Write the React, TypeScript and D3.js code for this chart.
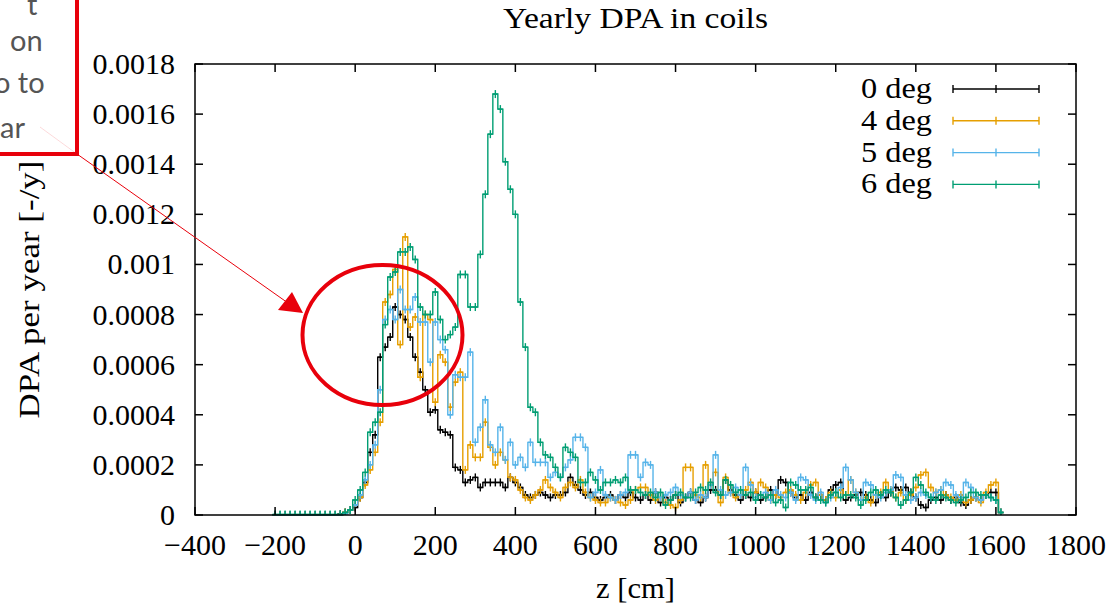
import React from "react";
import * as d3 from "d3";

// Histogram binning (cm)
const BIN_START = -200;
const BIN_WIDTH = 12.5;

// Values in units of 1e-5 DPA per year
const deg0 = [
  0,0,0,0,0,0,0,0,0,0,
  0,0,0,0.3,1,2,3,7,13,25,
  32,63,67,71,83,80,78,71,63,57,
  50,41,42,34,33,32,19,18,13,14,
  15,11,13,13,13,13,11,15,13,11,
  8,7,8,9,8,7,8,8,9,15,
  12,10,8,9,7,6,7,8,6,8,
  7,9,7,6,8,6,9,5,7,6,
  8,5,7,9,6,5,7,10,10,8,
  14,10,8,6,8,7,9,6,7,10,
  8,14,13,9,7,8,6,9,7,8,
  6,10,12,13,6,7,8,9,8,6,
  5,8,7,9,11,10,11,9,7,4,
  3,6,7,6,8,6,7,5,4,6,
  7,6,8,9,9,1,
];
const deg4 = [
  0,0,0,0,0,0,0,0,0,0,
  0,0,0,0,1,2,4,7,12,18,
  25,37,85,88,98,68,111,75,79,55,
  80,78,45,64,61,43,53,57,18,28,
  23,23,37,27,20,25,22,15,14,10,
  7,6,8,10,14,11,9,7,11,13,
  11,14,9,7,6,5,5,7,6,5,
  4,6,10,11,11,8,6,7,5,4,
  3,6,19,19,8,7,20,12,17,5,
  15,9,7,8,10,13,9,13,11,6,
  8,7,9,10,8,6,9,12,13,8,
  6,9,7,10,8,14,9,6,7,5,
  8,9,13,10,7,9,6,8,11,16,
  17,11,9,10,8,7,6,8,5,6,
  7,5,9,12,13,1,
];
const deg5 = [
  0,0,0,0,0,0,0,0,0,0,
  0,0,0,0,0.5,2,4,8,14,20,
  28,50,78,82,78,90,82,82,87,77,
  77,61,77,70,66,40,56,55,55,65,
  29,35,46,28,25,35,22,29,20,23,
  19,29,21,21,21,15,17,15,19,22,
  31,31,27,7,9,18,8,7,6,8,
  9,24,24,15,21,20,9,7,8,9,
  11,8,7,9,6,8,7,12,24,10,
  8,9,11,8,19,12,7,8,9,6,
  10,8,7,9,6,15,14,8,6,9,
  5,7,9,11,19,14,9,6,13,12,
  8,7,9,10,16,15,8,6,7,9,
  8,7,9,10,13,12,8,7,13,11,
  7,6,8,7,6,1,
];
const deg6 = [
  0.2,0.2,0.2,0.2,0.2,0.2,0.2,0.2,0.2,0.2,
  0.2,0.2,0.2,0.2,1,2,6,10,17,33,
  37,41,76,95,97,105,105,107,102,83,
  80,80,89,78,70,72,75,96,96,83,
  83,104,128,152,168,162,141,130,120,85,
  67,43,41,29,24,23,19,15,27,25,
  23,13,13,17,14,10,13,13,14,13,
  15,10,10,9,8,9,7,9,4,6,
  8,9,7,7,9,11,10,13,9,8,
  14,12,9,10,8,9,6,8,7,8,
  5,6,3,13,12,10,10,11,7,6,
  5,8,9,7,8,8,7,4,6,9,
  10,8,10,9,7,4,6,9,15,12,
  9,7,6,8,7,6,5,6,7,9,
  9,8,8,7,6,1,
];

const seriesNames = ["0 deg", "4 deg", "5 deg", "6 deg"];
const seriesValues = [deg0, deg4, deg5, deg6];
const seriesColors = ["#000000", "#E69F00", "#56B4E9", "#009E73"];

const xTicks = [-400, -200, 0, 200, 400, 600, 800, 1000, 1200, 1400, 1600, 1800];
const yTicks = [0, 0.0002, 0.0004, 0.0006, 0.0008, 0.001, 0.0012, 0.0014, 0.0016, 0.0018];
const yTickLabels = ["0", "0.0002", "0.0004", "0.0006", "0.0008", "0.001", "0.0012", "0.0014", "0.0016", "0.0018"];

const W = 1111, H = 611;
const L = 195, R = 1076, T = 64, B = 515;
const FONT = "'Liberation Serif', 'Times New Roman', serif";
const FS = 30;

export default function App() {
  const x = d3.scaleLinear().domain([-400, 1800]).range([L, R]);
  const y = d3.scaleLinear().domain([0, 0.0018]).range([B, T]);

  const fmtX = (v: number) => (v < 0 ? "\u2212" + Math.abs(v) : String(v));

  const paths = seriesValues.map((vals) => {
    const pts: [number, number][] = [];
    vals.forEach((v, i) => {
      const c = BIN_START + BIN_WIDTH * i;
      const val = v * 1e-5;
      pts.push([x(c - BIN_WIDTH / 2), y(val)]);
      pts.push([x(c + BIN_WIDTH / 2), y(val)]);
    });
    return d3.line()(pts) as string;
  });

  return (
    <svg width={W} height={H} style={{ position: "absolute", left: 0, top: 0, background: "#fff" }}
      fontFamily={FONT}>
      <rect x={0} y={0} width={W} height={H} fill="#fff" />
      {/* title */}
      <text x={(L + R) / 2} y={28} textAnchor="middle" fontSize={FS} textLength={265} lengthAdjust="spacingAndGlyphs">Yearly DPA in coils</text>

      {/* series */}
      {seriesValues.map((vals, si) => (
        <g key={si} stroke={seriesColors[si]} strokeWidth={1.4} fill="none">
          <path d={paths[si]} />
          {vals.map((v, i) => {
            const cx = x(BIN_START + BIN_WIDTH * i);
            const cy = y(v * 1e-5);
            return (
              <g key={i}>
                <line x1={cx} x2={cx} y1={cy - 4} y2={Math.min(cy + 4, B)} />
                <line x1={cx - 2.5} x2={cx + 2.5} y1={cy} y2={cy} />
              </g>
            );
          })}
        </g>
      ))}

      {/* frame */}
      <rect x={L} y={T} width={R - L} height={B - T} fill="none" stroke="#000" strokeWidth={1.5} />
      {/* ticks */}
      {xTicks.map((t) => (
        <g key={"x" + t}>
          <line x1={x(t)} x2={x(t)} y1={B} y2={B - 8} stroke="#000" strokeWidth={1.5} />
          <line x1={x(t)} x2={x(t)} y1={T} y2={T + 8} stroke="#000" strokeWidth={1.5} />
          <text x={x(t)} y={555} textAnchor="middle" fontSize={FS}>{fmtX(t)}</text>
        </g>
      ))}
      {yTicks.map((t, i) => (
        <g key={"y" + i}>
          <line x1={L} x2={L + 8} y1={y(t)} y2={y(t)} stroke="#000" strokeWidth={1.5} />
          <line x1={R} x2={R - 8} y1={y(t)} y2={y(t)} stroke="#000" strokeWidth={1.5} />
          <text x={175} y={y(t) + 10} textAnchor="end" fontSize={FS}>{yTickLabels[i]}</text>
        </g>
      ))}

      {/* axis titles */}
      <text x={(L + R) / 2} y={598} textAnchor="middle" fontSize={FS} textLength={79} lengthAdjust="spacingAndGlyphs">z [cm]</text>
      <text transform={`translate(39, ${(T + B) / 2}) rotate(-90)`} textAnchor="middle" fontSize={FS}
        textLength={258} lengthAdjust="spacingAndGlyphs">
        DPA per year [-/y]
      </text>

      {/* legend */}
      {seriesNames.map((n, i) => {
        const ly = 89 + i * 31.8;
        return (
          <g key={n}>
            <text x={932} y={ly + 9} textAnchor="end" fontSize={FS} textLength={71} lengthAdjust="spacingAndGlyphs">{n}</text>
            <g stroke={seriesColors[i]} strokeWidth={1.4}>
              <line x1={953} x2={1039} y1={ly} y2={ly} />
              <line x1={953} x2={953} y1={ly - 4} y2={ly + 4} />
              <line x1={996} x2={996} y1={ly - 4} y2={ly + 4} />
              <line x1={1039} x2={1039} y1={ly - 4} y2={ly + 4} />
            </g>
          </g>
        );
      })}

      {/* annotation overlay */}
      <g fontFamily="Lato, 'Open Sans', sans-serif" fill="#555" fontSize={29}>
        <text x={27} y={15}>t</text>
        <text x={10} y={51}>on</text>
        <text x={-6} y={93}>o to</text>
        <text x={0} y={138}>ar</text>
      </g>
      <rect x={-10} y={-10} width={87} height={164} fill="none" stroke="#e8000b" strokeWidth={4} />
      <line x1={77} y1={154} x2={288} y2={303} stroke="#e8000b" strokeWidth={1} />
      <line x1={40} y1={127} x2={77} y2={154} stroke="#e8000b" strokeOpacity={0.15} strokeWidth={1} />
      <polygon points="303,313 278,310 292,292" fill="#e8000b" />
      <ellipse cx={382.5} cy={335} rx={80} ry={70} fill="none" stroke="#e8000b" strokeWidth={4} />
    </svg>
  );
}
